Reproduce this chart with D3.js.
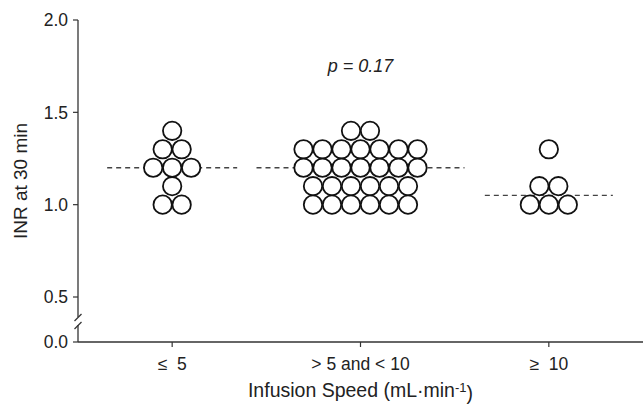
<!DOCTYPE html>
<html>
<head>
<meta charset="utf-8">
<script src="https://cdn.jsdelivr.net/npm/d3@7"></script>
<style>
  body { margin: 0; background: #fff; }
  svg { display: block; font-family: "Liberation Sans", Arial, Helvetica, sans-serif; }
</style>
</head>
<body>
<div id="chart"></div>
<script>
// groups along the x axis
const categories = ["\u2264  5", "> 5 and < 10", "\u2265  10"];

// INR at 30 min, one entry per patient
const slowValues = [1.4, 1.3, 1.3, 1.2, 1.2, 1.2, 1.1, 1.0, 1.0];
const midValues = [1.4, 1.4,
    1.3, 1.3, 1.3, 1.3, 1.3, 1.3, 1.3,
    1.2, 1.2, 1.2, 1.2, 1.2, 1.2, 1.2,
    1.1, 1.1, 1.1, 1.1, 1.1, 1.1,
    1.0, 1.0, 1.0, 1.0, 1.0, 1.0];
const fastValues = [1.3, 1.1, 1.1, 1.0, 1.0, 1.0];

const medians = [1.2, 1.2, 1.05];
const yTicks = [0.5, 1.0, 1.5, 2.0];
const pLabel = "p = 0.17";

const groups = [slowValues, midValues, fastValues];

const width = 643, height = 404;
const axisX = 78, axisBottom = 342, axisTop = 20;

const svg = d3.select("#chart").append("svg")
    .attr("width", width)
    .attr("height", height);

const x = d3.scalePoint()
    .domain(categories)
    .range([axisX, width])
    .padding(0.5);

// broken axis: 0.5 .. 2.0 on the main part, 0.0 sits below the break
const y = d3.scaleLinear()
    .domain([0.5, 2.0])
    .range([297, axisTop]);

const axisColor = "#333";

// y axis line with break
svg.append("line")
    .attr("x1", axisX).attr("x2", axisX)
    .attr("y1", axisTop).attr("y2", 317)
    .attr("stroke", axisColor).attr("stroke-width", 1.3);
svg.append("line")
    .attr("x1", axisX).attr("x2", axisX)
    .attr("y1", 325).attr("y2", axisBottom)
    .attr("stroke", axisColor).attr("stroke-width", 1.3);
[321, 329].forEach(cy => {
    svg.append("line")
        .attr("x1", axisX - 3.5).attr("y1", cy)
        .attr("x2", axisX + 3.5).attr("y2", cy - 7)
        .attr("stroke", axisColor).attr("stroke-width", 1.2);
});

// y ticks
const yTickData = yTicks.map(v => ({ v: v, py: y(v) })).concat([{ v: 0, py: axisBottom }]);
svg.selectAll(".ytick")
    .data(yTickData)
    .enter().append("line")
    .attr("x1", axisX - 5).attr("x2", axisX)
    .attr("y1", d => d.py).attr("y2", d => d.py)
    .attr("stroke", axisColor).attr("stroke-width", 1.2);

svg.selectAll(".ylab")
    .data(yTickData)
    .enter().append("text")
    .attr("x", axisX - 10)
    .attr("y", d => d.py)
    .attr("dy", "0.36em")
    .attr("text-anchor", "end")
    .style("font-size", "17.5px")
    .attr("fill", "#222")
    .text(d => d.v.toFixed(1));

// x axis
svg.append("line")
    .attr("x1", axisX).attr("x2", width)
    .attr("y1", axisBottom).attr("y2", axisBottom)
    .attr("stroke", axisColor).attr("stroke-width", 1.5);

svg.selectAll(".xtick")
    .data(categories)
    .enter().append("line")
    .attr("x1", d => x(d)).attr("x2", d => x(d))
    .attr("y1", axisBottom).attr("y2", axisBottom + 5)
    .attr("stroke", axisColor).attr("stroke-width", 1.2);

svg.selectAll(".xlab")
    .data(categories)
    .enter().append("text")
    .attr("x", d => x(d))
    .attr("y", 370)
    .attr("text-anchor", "middle")
    .style("font-size", "17.5px")
    .style("white-space", "pre")
    .attr("fill", "#222")
    .text(d => d);

// axis titles
const xTitle = svg.append("text")
    .attr("x", x(categories[1]))
    .attr("y", 397)
    .attr("text-anchor", "middle")
    .style("font-size", "19.5px")
    .attr("fill", "#222")
    .text("Infusion Speed (mL\u00b7min");
xTitle.append("tspan")
    .attr("dy", "-0.42em")
    .style("font-size", "13px")
    .text("-1");
xTitle.append("tspan")
    .attr("dy", "0.42em")
    .text(")");

svg.append("text")
    .attr("transform", "translate(27," + ((axisTop + axisBottom) / 2) + ") rotate(-90)")
    .attr("text-anchor", "middle")
    .style("font-size", "19px")
    .attr("fill", "#222")
    .text("INR at 30 min");

// p value
svg.append("text")
    .attr("x", x(categories[1]))
    .attr("y", 72)
    .attr("text-anchor", "middle")
    .style("font-size", "18px")
    .style("font-style", "italic")
    .attr("fill", "#222")
    .text(pLabel);

// median dashed lines
const halfWidths = [65, 104, 64];
svg.selectAll(".median")
    .data(medians)
    .enter().append("line")
    .attr("x1", (d, i) => x(categories[i]) - halfWidths[i])
    .attr("x2", (d, i) => x(categories[i]) + halfWidths[i])
    .attr("y1", d => y(d)).attr("y2", d => y(d))
    .attr("stroke", "#444")
    .attr("stroke-width", 1.3)
    .attr("stroke-dasharray", "5,4");

// dot plot: stack circles side by side within each value row
const spacing = 19;
const dots = [];
groups.forEach((vals, gi) => {
    const rows = d3.group(vals, v => v);
    rows.forEach((row, v) => {
        row.forEach((_, k) => {
            dots.push({
                cx: x(categories[gi]) + (k - (row.length - 1) / 2) * spacing,
                cy: y(v)
            });
        });
    });
});

svg.selectAll(".dot")
    .data(dots)
    .enter().append("circle")
    .attr("cx", d => d.cx)
    .attr("cy", d => d.cy)
    .attr("r", 9.2)
    .attr("fill", "#fff")
    .attr("stroke", "#111")
    .attr("stroke-width", 1.8);
</script>
</body>
</html>
